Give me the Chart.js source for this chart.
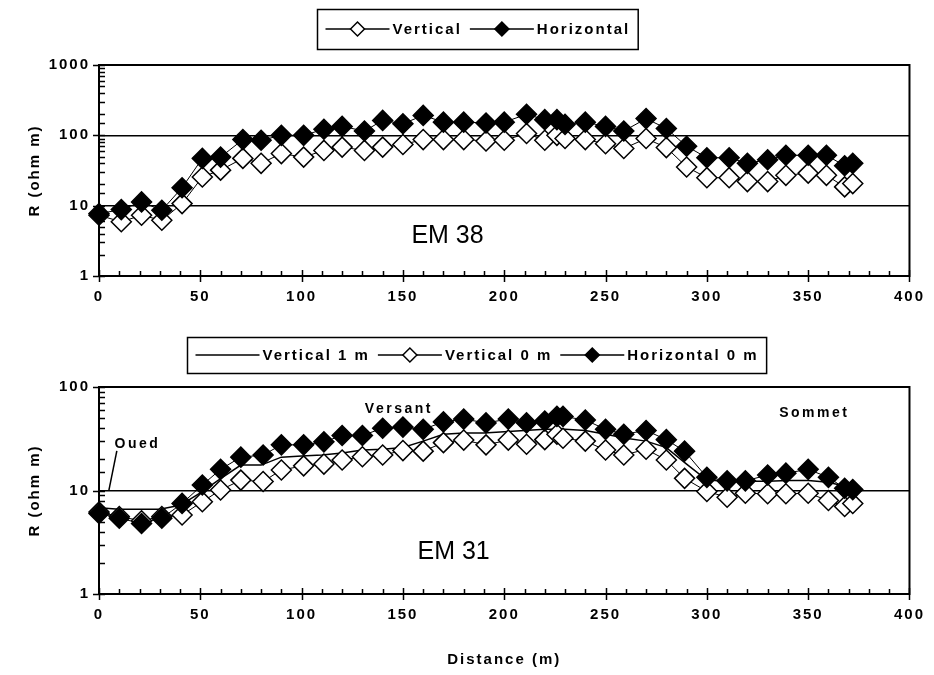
<!DOCTYPE html>
<html>
<head>
<meta charset="utf-8">
<script src="https://cdn.jsdelivr.net/npm/chart.js@4/dist/chart.umd.min.js"></script>
<style>
  body { margin: 0; background: #fff; }
  canvas { position: absolute; left: 0; }
  #em38 { top: 0; }
  #em31 { top: 320px; }
</style>
</head>
<body>
<canvas id="em38" width="934" height="320"></canvas>
<canvas id="em31" width="934" height="355"></canvas>
<script>
const FONT = '"Liberation Sans", Arial, sans-serif'

// EM 38 profile
const em38Dist = [0, 11, 21, 31, 41, 51, 60, 71, 80, 90, 101, 111, 120, 131, 140, 150, 160, 170, 180, 191,
  200, 211, 220, 226, 230, 240, 250, 259, 270, 280, 290, 300, 311, 320, 330, 339, 350, 359, 368, 372]
const em38Vertical = [7.3, 5.9, 7.3, 6.2, 10.7, 25.6, 32, 47, 40, 55, 49, 61, 68, 61, 68, 74, 87, 87, 87, 83,
  85, 106, 85, 100, 90, 87, 76, 65, 90, 67, 35.5, 25, 25, 22, 22, 27, 29, 27, 18.5, 20.6]
const em38Horizontal = [7.7, 8.8, 11.3, 8.6, 18, 47, 49, 87, 85, 100, 100, 122, 134, 115, 163, 146, 192, 154, 154, 150,
  154, 199, 167, 167, 143, 154, 134, 115, 173, 125, 70, 48, 48, 40, 45, 52, 52, 52, 37, 40]

// EM 31 profile
const em31Dist = [0, 10, 21, 31, 41, 51, 60, 70, 81, 90, 101, 111, 120, 130, 140, 150, 160, 170, 180, 191,
  202, 211, 220, 226, 229, 240, 250, 259, 270, 280, 289, 300, 310, 319, 330, 339, 350, 360, 368, 372]
const em31Vertical0 = [6.2, 5.6, 5.1, 5.6, 5.8, 7.8, 10.1, 12.6, 12.2, 15.8, 17.3, 18, 19.7, 21.2, 22, 24.3, 24, 29, 30.7, 27.6,
  30.7, 28, 31, 35, 32, 30, 24.6, 22, 25, 19.7, 13.1, 9.8, 8.6, 9.4, 9.3, 9.3, 9.4, 8.0, 7.0, 7.5]
const em31Horizontal0 = [6.0, 5.4, 4.8, 5.4, 7.5, 11.3, 16, 21, 22, 27.6, 27.6, 29.5, 34, 34, 40, 41, 39, 46, 49, 45,
  49, 45, 47, 52, 52, 48, 39, 35, 38, 31, 24, 13.4, 12.4, 12.4, 14.1, 14.7, 16, 13.4, 10.5, 10.2]
const em31V1Dist = [0, 10, 20, 30, 40, 50, 60, 70, 80, 90, 100, 110, 120, 130, 140, 150, 160, 170, 180, 190,
  200, 210, 220, 230, 240, 250, 260, 270, 280, 290, 300, 310, 320, 330, 340, 350, 360, 372]
const em31Vertical1 = [6.8, 6.6, 6.6, 6.6, 7.2, 9.5, 13, 17.6, 17.6, 21, 21.5, 22, 23, 24.6, 25, 26, 30, 35, 36, 36,
  37, 38, 39, 39, 38, 35, 32, 30, 26, 18, 12.6, 12.3, 12.3, 12.3, 12.5, 12.5, 12, 10.5]

// axes
const xMax = 400
const xStep = 50
const xMinorStep = 10
const em38YMax = 1000
const em31YMax = 100

// labels placed in data space
const em38Notes = [{ text: 'EM 38', x: 172, y: 3.7, size: 25, spacing: 0, bold: false }]
const em31Notes = [
  { text: 'EM 31', x: 175, y: 2.55, size: 25, spacing: 0, bold: false },
  { text: 'Versant', x: 148, y: 61, size: 14, spacing: 2.5, bold: true },
  { text: 'Sommet', x: 353, y: 56, size: 14, spacing: 2.5, bold: true },
  { text: 'Oued', x: 19, y: 28.1, size: 14, spacing: 2.5, bold: true }
]
const em31Leaders = [{ from: [8.8, 24.1], to: [4.9, 10.1] }]

const pts = (xs, ys) => xs.map((x, i) => ({ x, y: ys[i] }))
const isDecade = v => { const l = Math.log10(v); return Math.abs(l - Math.round(l)) < 1e-6 }

function diamond(ctx, x, y, r, fill) {
  ctx.beginPath()
  ctx.moveTo(x - r, y); ctx.lineTo(x, y - r); ctx.lineTo(x + r, y); ctx.lineTo(x, y + r)
  ctx.closePath()
  ctx.fillStyle = fill
  ctx.fill()
  ctx.lineWidth = 1.5
  ctx.strokeStyle = '#000'
  ctx.stroke()
}

const openSeries = (label, data, order) => ({
  label, data, order,
  borderColor: '#000', borderWidth: 1,
  pointStyle: 'rectRot', pointRadius: 10, pointBackgroundColor: '#fff',
  pointBorderColor: '#000', pointBorderWidth: 1.5, clip: false
})
const filledSeries = (label, data, order) => ({
  label, data, order,
  borderColor: '#000', borderWidth: 1,
  pointStyle: 'rectRot', pointRadius: 10, pointBackgroundColor: '#000',
  pointBorderColor: '#000', pointBorderWidth: 1.5, clip: false
})

// spaced text like the original
const spacing = {
  id: 'spacing',
  beforeDraw(chart) { chart.ctx.letterSpacing = '2px' }
}

// box, ticks in and out
const frame = {
  id: 'frame',
  afterDraw(chart) {
    const { ctx, chartArea: a, scales: { x, y } } = chart
    ctx.save()
    ctx.strokeStyle = '#000'
    ctx.lineWidth = 2
    ctx.strokeRect(a.left, a.top, a.right - a.left, a.bottom - a.top)
    ctx.lineWidth = 1.5
    ctx.beginPath()
    y.ticks.forEach(t => {
      const py = Math.round(y.getPixelForValue(t.value)) + 0.5
      const major = isDecade(t.value)
      ctx.moveTo(a.left - (major ? 6 : 0), py)
      ctx.lineTo(a.left + 6, py)
    })
    for (let v = x.min; v <= x.max; v += xMinorStep) {
      const px = Math.round(x.getPixelForValue(v)) + 0.5
      const major = v % xStep === 0
      ctx.moveTo(px, a.bottom + (major ? 6 : 0))
      ctx.lineTo(px, a.bottom - (major ? 6 : 5))
    }
    ctx.stroke()
    ctx.restore()
  }
}

const notes = {
  id: 'notes',
  afterDraw(chart, args, opts) {
    const { ctx, scales: { x, y } } = chart
    ctx.save()
    ctx.fillStyle = '#000'
    ctx.strokeStyle = '#000'
    ctx.textAlign = 'center'
    ctx.textBaseline = 'middle'
    ;(opts.items || []).forEach(n => {
      ctx.font = `${n.bold ? 'bold ' : ''}${n.size}px ${FONT}`
      ctx.letterSpacing = n.spacing + 'px'
      ctx.fillText(n.text, x.getPixelForValue(n.x), y.getPixelForValue(n.y))
    })
    ctx.lineWidth = 1.5
    ;(opts.leaders || []).forEach(l => {
      ctx.beginPath()
      ctx.moveTo(x.getPixelForValue(l.from[0]), y.getPixelForValue(l.from[1]))
      ctx.lineTo(x.getPixelForValue(l.to[0]), y.getPixelForValue(l.to[1]))
      ctx.stroke()
    })
    ctx.restore()
  }
}

const boxLegend = {
  id: 'boxLegend',
  afterDraw(chart, args, opts) {
    const ctx = chart.ctx
    ctx.save()
    ctx.font = `bold 15px ${FONT}`
    ctx.letterSpacing = '2px'
    const sample = 64, gap = 3, sep = 8, pad = 8
    const items = chart.data.datasets.map(ds => ({ ds, w: ctx.measureText(ds.label).width }))
    let total = pad * 2
    items.forEach((it, i) => { total += sample + gap + it.w + (i ? sep : 0) })
    let x = Math.round(opts.cx - total / 2) + 0.5
    const cy = opts.top + opts.height / 2
    ctx.strokeStyle = '#000'
    ctx.lineWidth = 1.5
    ctx.strokeRect(x, opts.top + 0.5, total, opts.height)
    x += pad
    items.forEach((it, i) => {
      if (i) x += sep
      const ds = it.ds
      ctx.beginPath()
      ctx.lineWidth = 1.5
      ctx.moveTo(x, cy); ctx.lineTo(x + sample, cy)
      ctx.stroke()
      if (ds.pointRadius > 0) diamond(ctx, x + sample / 2, cy, 7, ds.pointBackgroundColor)
      x += sample + gap
      ctx.fillStyle = '#000'
      ctx.textAlign = 'left'
      ctx.textBaseline = 'middle'
      ctx.fillText(ds.label, x, cy + 1)
      x += it.w
    })
    ctx.restore()
  }
}

function baseOptions(yMax, padTop, xHeight, xTitle, legendTop, legendHeight, noteItems, leaders) {
  return {
    responsive: false,
    animation: false,
    events: [],
    layout: { padding: { top: padTop, right: 21, bottom: 0, left: 0 } },
    scales: {
      x: {
        type: 'linear', min: 0, max: xMax,
        afterFit: s => { s.height = xHeight },
        grid: { display: false, drawTicks: false },
        border: { display: false },
        ticks: { stepSize: xStep, padding: 12, color: '#000', font: { family: FONT, size: 15, weight: 'bold' } },
        title: {
          display: !!xTitle, text: xTitle, color: '#000',
          font: { family: FONT, size: 15, weight: 'bold' }, padding: { top: 0, bottom: 6 }
        }
      },
      y: {
        type: 'logarithmic', min: 1, max: yMax,
        afterFit: s => { s.width = 99 },
        grid: {
          drawTicks: false, lineWidth: 1.5,
          color: c => (c.tick && isDecade(c.tick.value)) ? '#000' : 'rgba(0,0,0,0)'
        },
        border: { display: false },
        ticks: {
          autoSkip: false, padding: 9, color: '#000', font: { family: FONT, size: 15, weight: 'bold' },
          callback: v => isDecade(v) ? String(Math.round(v)) : ''
        },
        title: {
          display: true, text: 'R (ohm m)', color: '#000',
          font: { family: FONT, size: 15, weight: 'bold' }, padding: { top: 26, bottom: 0 }
        }
      }
    },
    plugins: {
      legend: { display: false },
      tooltip: { enabled: false },
      boxLegend: { cx: 477, top: legendTop, height: legendHeight },
      notes: { items: noteItems, leaders }
    }
  }
}

new Chart(document.getElementById('em38'), {
  type: 'line',
  data: {
    datasets: [
      openSeries('Vertical', pts(em38Dist, em38Vertical), 1),
      filledSeries('Horizontal', pts(em38Dist, em38Horizontal), 0)
    ]
  },
  options: baseOptions(em38YMax, 65, 44, '', 9, 40, em38Notes, []),
  plugins: [spacing, frame, notes, boxLegend]
})

new Chart(document.getElementById('em31'), {
  type: 'line',
  data: {
    datasets: [
      {
        label: 'Vertical 1 m', data: pts(em31V1Dist, em31Vertical1), order: 2,
        borderColor: '#000', borderWidth: 1.5, pointRadius: 0, clip: false
      },
      openSeries('Vertical 0 m', pts(em31Dist, em31Vertical0), 1),
      filledSeries('Horizontal 0 m', pts(em31Dist, em31Horizontal0), 0)
    ]
  },
  options: baseOptions(em31YMax, 67, 81, 'Distance (m)', 17, 36, em31Notes, em31Leaders),
  plugins: [spacing, frame, notes, boxLegend]
})
</script>
</body>
</html>
